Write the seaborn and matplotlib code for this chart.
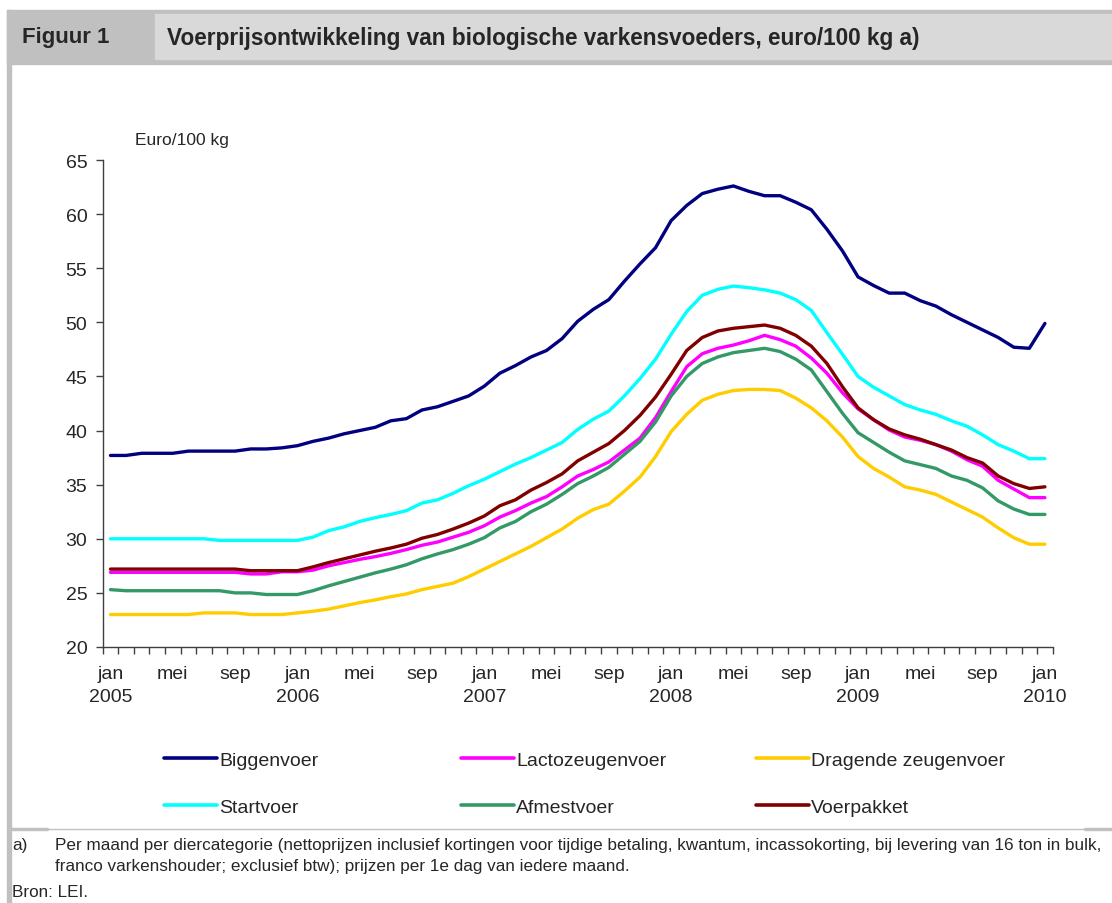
import numpy as np
import pandas as pd
import seaborn as sns
import matplotlib.pyplot as plt
from matplotlib.patches import Rectangle
from matplotlib.lines import Line2D

# maandprijzen jan 2005 - jan 2010 (euro/100 kg)
months = ["jan", "feb", "mrt", "apr", "mei", "jun", "jul", "aug", "sep", "okt", "nov", "dec"]
years = [2005, 2006, 2007, 2008, 2009, 2010]

biggenvoer = [37.7, 37.7, 37.9, 37.9, 37.9, 38.1, 38.1, 38.1, 38.1, 38.3, 38.3, 38.4,
              38.6, 39.0, 39.3, 39.7, 40.0, 40.3, 40.9, 41.1, 41.9, 42.2, 42.7, 43.2,
              44.1, 45.3, 46.0, 46.8, 47.4, 48.5, 50.1, 51.2, 52.1, 53.8, 55.4, 56.9,
              59.4, 60.8, 61.9, 62.3, 62.6, 62.1, 61.7, 61.7, 61.1, 60.4, 58.6, 56.6,
              54.2, 53.4, 52.7, 52.7, 52.0, 51.5, 50.7, 50.0, 49.3, 48.6, 47.7, 47.6,
              49.9]
lactozeugenvoer = [26.9, 26.9, 26.9, 26.9, 26.9, 26.9, 26.9, 26.9, 26.9, 26.75, 26.75, 26.95,
                   26.95, 27.1, 27.5, 27.8, 28.1, 28.35, 28.65, 29.0, 29.4, 29.7, 30.15, 30.6,
                   31.2, 32.0, 32.6, 33.3, 33.9, 34.8, 35.8, 36.4, 37.1, 38.2, 39.3, 41.2,
                   43.6, 45.9, 47.1, 47.6, 47.9, 48.3, 48.8, 48.4, 47.8, 46.7, 45.3, 43.5,
                   42.0, 41.0, 40.05, 39.4, 39.1, 38.7, 38.1, 37.3, 36.7, 35.4, 34.6, 33.8,
                   33.8]
dragende_zeugenvoer = [23.0, 23.0, 23.0, 23.0, 23.0, 23.0, 23.15, 23.15, 23.15, 23.0, 23.0, 23.0,
                       23.15, 23.3, 23.5, 23.8, 24.1, 24.35, 24.65, 24.9, 25.3, 25.6, 25.9, 26.5,
                       27.2, 27.9, 28.6, 29.3, 30.1, 30.9, 31.9, 32.7, 33.2, 34.4, 35.7, 37.6,
                       39.9, 41.5, 42.8, 43.35, 43.7, 43.8, 43.8, 43.7, 43.0, 42.1, 40.9, 39.4,
                       37.6, 36.5, 35.7, 34.8, 34.5, 34.1, 33.4, 32.7, 32.0, 31.0, 30.1, 29.5,
                       29.5]
startvoer = [30.0, 30.0, 30.0, 30.0, 30.0, 30.0, 30.0, 29.85, 29.85, 29.85, 29.85, 29.85,
             29.85, 30.15, 30.75, 31.1, 31.6, 31.95, 32.25, 32.6, 33.3, 33.6, 34.2, 34.9,
             35.5, 36.2, 36.9, 37.5, 38.2, 38.9, 40.1, 41.05, 41.8, 43.2, 44.8, 46.6,
             48.9, 51.0, 52.5, 53.05, 53.35, 53.2, 53.0, 52.7, 52.1, 51.1, 49.05, 47.05,
             45.0, 44.0, 43.2, 42.4, 41.9, 41.5, 40.9, 40.4, 39.6, 38.7, 38.1, 37.4,
             37.4]
afmestvoer = [25.3, 25.2, 25.2, 25.2, 25.2, 25.2, 25.2, 25.2, 25.0, 25.0, 24.85, 24.85,
              24.85, 25.2, 25.65, 26.05, 26.45, 26.85, 27.2, 27.6, 28.15, 28.6, 29.0, 29.5,
              30.1, 31.0, 31.6, 32.5, 33.2, 34.1, 35.1, 35.8, 36.6, 37.8, 39.0, 40.8,
              43.2, 45.0, 46.2, 46.8, 47.2, 47.4, 47.6, 47.3, 46.6, 45.6, 43.6, 41.6,
              39.8, 38.9, 38.0, 37.2, 36.85, 36.5, 35.8, 35.4, 34.7, 33.5, 32.75, 32.25,
              32.25]
voerpakket = [27.2, 27.2, 27.2, 27.2, 27.2, 27.2, 27.2, 27.2, 27.2, 27.05, 27.05, 27.05,
              27.05, 27.4, 27.8, 28.15, 28.5, 28.85, 29.15, 29.5, 30.05, 30.4, 30.9, 31.45,
              32.1, 33.05, 33.6, 34.5, 35.2, 36.0, 37.2, 38.0, 38.8, 40.0, 41.4, 43.1,
              45.2, 47.4, 48.6, 49.2, 49.45, 49.6, 49.75, 49.45, 48.8, 47.8, 46.2, 44.05,
              42.1, 41.0, 40.15, 39.6, 39.2, 38.7, 38.2, 37.5, 37.0, 35.8, 35.1, 34.65,
              34.8]

series = {
    "Biggenvoer": biggenvoer,
    "Startvoer": startvoer,
    "Lactozeugenvoer": lactozeugenvoer,
    "Afmestvoer": afmestvoer,
    "Dragende zeugenvoer": dragende_zeugenvoer,
    "Voerpakket": voerpakket,
}
colors = {
    "Biggenvoer": "#000080",
    "Startvoer": "#00FFFF",
    "Lactozeugenvoer": "#FF00FF",
    "Afmestvoer": "#339966",
    "Dragende zeugenvoer": "#FFCC00",
    "Voerpakket": "#800000",
}

# maandlabels: jan/mei/sep met jaartal onder jan
month_labels = [f"{m} {y}" for y in years for m in months][:61]
n = len(month_labels)

rows = []
for name, vals in series.items():
    for i, v in enumerate(vals):
        rows.append({"maand": i, "serie": name, "prijs": v})
df = pd.DataFrame(rows)

sns.set_theme(style="ticks")
plt.rcParams["font.family"] = ["Liberation Sans", "DejaVu Sans"]

W, H = 1112, 904
fig = plt.figure(figsize=(W / 100, H / 100), dpi=100)
fig.patch.set_facecolor("white")

def fx(x):
    return x / W

def fy(y):
    return 1 - y / H

# kader en kop
fig.add_artist(Rectangle((fx(7), fy(65)), fx(W - 7), 54 / H, color="#c0c0c0", zorder=0))
fig.add_artist(Rectangle((fx(155), fy(60)), fx(W - 155), 45 / H, color="#d9d9d9", zorder=0))
fig.add_artist(Rectangle((fx(7), 0), 4 / W, fy(11), color="#c0c0c0", zorder=0))
fig.add_artist(Line2D([fx(11), fx(W)], [fy(830), fy(830)], color="#c0c0c0", lw=1))
fig.add_artist(Line2D([fx(11), fx(47)], [fy(830), fy(830)], color="#c0c0c0", lw=2.5))
fig.add_artist(Line2D([fx(1085), fx(W)], [fy(830), fy(830)], color="#c0c0c0", lw=2.5))

fig.text(fx(22), fy(38), "Figuur 1", fontsize=16, fontweight="bold", va="center", ha="left")
fig.text(fx(167), fy(38), "Voerprijsontwikkeling van biologische varkensvoeders, euro/100 kg a)",
         fontsize=16.3, fontweight="bold", va="center", ha="left")

ax = fig.add_axes([fx(102.7), fy(648), (1052.7 - 102.7) / W, (648 - 161) / H])
sns.lineplot(data=df, x="maand", y="prijs", hue="serie", palette=colors,
             linewidth=2.4, ax=ax, legend=False)

ax.set_xlim(-0.5, n - 0.5)
ax.set_ylim(20, 65)
ax.set_yticks(np.arange(20, 66, 5))
ax.set_xlabel("")
ax.set_ylabel("")

tick_pos = [i for i, lab in enumerate(month_labels) if lab.split()[0] in ("jan", "mei", "sep")]
tick_lab = []
for i in tick_pos:
    m, y = month_labels[i].split()
    tick_lab.append(f"{m}\n{y}" if m == "jan" else m)
ax.set_xticks(tick_pos)
ax.set_xticklabels(tick_lab, fontsize=14, linespacing=1.45)
ax.set_xticks(np.arange(-0.5, n, 1), minor=True)
ax.tick_params(axis="x", which="major", length=0, pad=13)
ax.tick_params(axis="x", which="minor", length=5, width=1, color="#404040", direction="out")
ax.tick_params(axis="y", length=5, width=1, color="#404040", labelsize=14, pad=6)
for s in ["top", "right"]:
    ax.spines[s].set_visible(False)
for s in ["left", "bottom"]:
    ax.spines[s].set_color("#404040")
    ax.spines[s].set_linewidth(1)

fig.text(fx(135), fy(141), "Euro/100 kg", fontsize=12.5, va="center", ha="left")

# legenda in drie kolommen
col_x = [163, 460, 755]
names = list(series.keys())
for c in range(3):
    pair = names[2 * c:2 * c + 2]
    handles = [Line2D([0], [0], color=colors[p], lw=2.6) for p in pair]
    fig.legend(handles, pair, loc="upper left", bbox_to_anchor=(fx(col_x[c] - 15), fy(737)),
               frameon=False, fontsize=14, handlelength=2.75, handletextpad=0.1,
               labelspacing=1.5, borderpad=0.3)

fs_note = 12.3
fig.text(fx(12), fy(846), "a)", fontsize=fs_note, va="center", ha="left")
fig.text(fx(55), fy(846), "Per maand per diercategorie (nettoprijzen inclusief kortingen voor tijdige betaling, "
         "kwantum, incassokorting, bij levering van 16 ton in bulk,", fontsize=fs_note, va="center", ha="left")
fig.text(fx(55), fy(867), "franco varkenshouder; exclusief btw); prijzen per 1e dag van iedere maand.",
         fontsize=fs_note, va="center", ha="left")
fig.text(fx(12), fy(893), "Bron: LEI.", fontsize=fs_note, va="center", ha="left")

fig.savefig("out.png", dpi=100)
